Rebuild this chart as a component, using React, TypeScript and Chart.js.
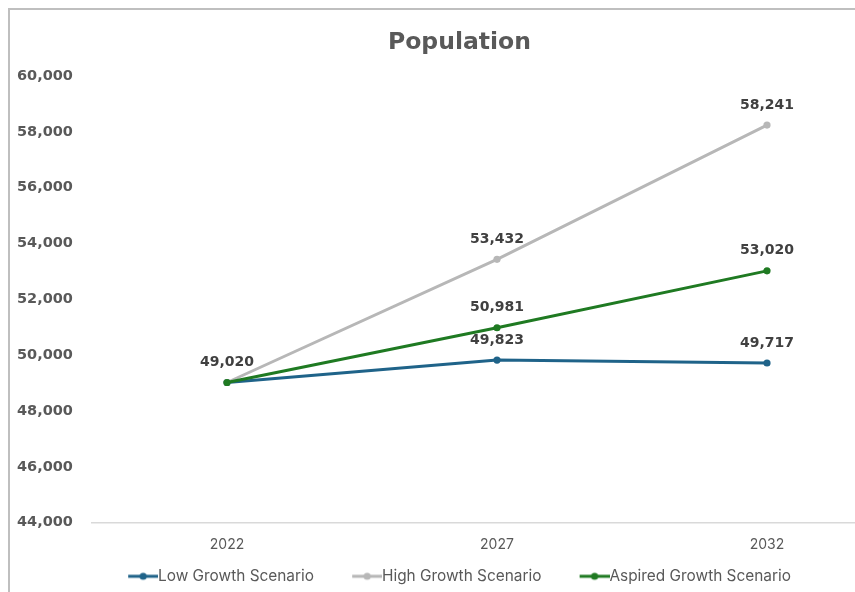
import React, { useEffect, useRef } from "react";
import { Chart, registerables } from "chart.js";

Chart.register(...registerables);

const years = ["2022", "2027", "2032"];
const lowGrowth = [49020, 49823, 49717];
const highGrowth = [49020, 53432, 58241];
const aspiredGrowth = [49020, 50981, 53020];
const seriesNames = ["Low Growth Scenario", "High Growth Scenario", "Aspired Growth Scenario"];
const seriesColors = ["#1f6389", "#b7b7b7", "#1f7a22"];
const yMin = 44000;
const yMax = 60000;
const yStep = 2000;
const titleText = "Population";

const fmt = (v: number) => v.toLocaleString("en-US");

// legend geometry
const LEG_FONT = 15.4;
const LEG_PAD = 9;
const LINE_LEN = 30;
const BOX_W = 68 - LEG_PAD - LEG_FONT / 2;
const IMG_W = Math.round(BOX_W + LEG_FONT);
const LEAD = BOX_W + LEG_FONT / 2 - LINE_LEN;

function makeSwatch(color: string): HTMLCanvasElement {
  const c = document.createElement("canvas");
  c.width = IMG_W;
  c.height = 10;
  const g = c.getContext("2d")!;
  g.strokeStyle = color;
  g.lineWidth = 3;
  g.beginPath();
  g.moveTo(IMG_W - LINE_LEN, 5);
  g.lineTo(IMG_W, 5);
  g.stroke();
  g.fillStyle = color;
  g.beginPath();
  g.arc(IMG_W - LINE_LEN / 2, 5, 3.6, 0, Math.PI * 2);
  g.fill();
  return c;
}

const valueLabels = {
  id: "valueLabels",
  afterLayout(chart: any) {
    if (chart.legend) {
      chart.legend.left -= LEAD / 2;
      chart.legend.right -= LEAD / 2;
    }
  },
  afterDatasetsDraw(chart: any) {
    const ctx = chart.ctx;
    ctx.save();
    ctx.font = 'bold 14px "DejaVu Sans"';
    ctx.fillStyle = "#404040";
    ctx.textAlign = "center";
    ctx.textBaseline = "middle";
    const datasets = chart.data.datasets;
    datasets.forEach((ds: any, di: number) => {
      const meta = chart.getDatasetMeta(di);
      meta.data.forEach((pt: any, i: number) => {
        const v = ds.data[i];
        let dup = false;
        for (let k = 0; k < di; k++) if (datasets[k].data[i] === v) dup = true;
        if (dup) return;
        ctx.fillText(fmt(v), pt.x, pt.y - 20);
      });
    });
    ctx.restore();
  },
};

export default function App() {
  const ref = useRef<HTMLCanvasElement | null>(null);

  useEffect(() => {
    if (!ref.current) return;
    const swatches = seriesColors.map(makeSwatch);
    const series = [lowGrowth, highGrowth, aspiredGrowth];
    const chart = new Chart(ref.current, {
      type: "line",
      data: {
        labels: years,
        datasets: series.map((d, i) => ({
          label: seriesNames[i],
          data: d,
          borderColor: seriesColors[i],
          backgroundColor: seriesColors[i],
          pointBackgroundColor: seriesColors[i],
          pointBorderWidth: 0,
          pointRadius: 3.6,
          borderWidth: 2.9,
          tension: 0,
          order: 2 - i,
        })),
      },
      options: {
        responsive: false,
        animation: false,
        layout: { padding: { left: 7, right: 5, top: 0, bottom: -2 } },
        plugins: {
          title: {
            display: true,
            text: titleText,
            color: "#595959",
            font: { family: '"DejaVu Sans"', size: 23.5, weight: "bold" },
            padding: { top: 18.5, bottom: 19.3 },
          },
          legend: {
            position: "bottom",
            labels: {
              usePointStyle: true,
              pointStyleWidth: BOX_W,
              padding: LEG_PAD,
              color: "#595959",
              font: { family: "Inter", size: LEG_FONT },
              sort: (a: any, b: any) => a.datasetIndex - b.datasetIndex,
              generateLabels: (ch: any) =>
                ch.data.datasets.map((ds: any, i: number) => ({
                  text: ds.label,
                  datasetIndex: i,
                  pointStyle: swatches[i],
                  fillStyle: seriesColors[i],
                  strokeStyle: seriesColors[i],
                  lineWidth: 0,
                  fontColor: "#595959",
                  hidden: false,
                })),
            },
          },
          tooltip: { enabled: false },
        },
        scales: {
          x: {
            offset: true,
            grid: { display: false, drawTicks: false },
            border: { display: true, color: "#d9d9d9", width: 1.5 },
            ticks: {
              color: "#595959",
              font: { family: "Inter", size: 14 },
              padding: 13.6,
            },
            afterFit: (s: any) => {
              s.height = 37;
            },
          },
          y: {
            min: yMin,
            max: yMax,
            grid: { display: false, drawTicks: false },
            border: { display: false },
            ticks: {
              stepSize: yStep,
              crossAlign: "far",
              color: "#595959",
              font: { family: '"DejaVu Sans"', size: 14.5, weight: "bold" },
              callback: (v: any) => fmt(Number(v)),
            },
            afterFit: (s: any) => {
              s.width = 75;
            },
          },
        },
      },
      plugins: [valueLabels],
    });
    return () => chart.destroy();
  }, []);

  return (
    <div
      style={{
        position: "fixed",
        left: 8,
        top: 8,
        width: 847,
        height: 584,
        boxSizing: "border-box",
        borderLeft: "2px solid #bfbfbf",
        borderTop: "2px solid #bfbfbf",
        overflow: "hidden",
        background: "#fff",
      }}
    >
      <canvas ref={ref} width={897} height={582} style={{ display: "block" }} />
    </div>
  );
}
